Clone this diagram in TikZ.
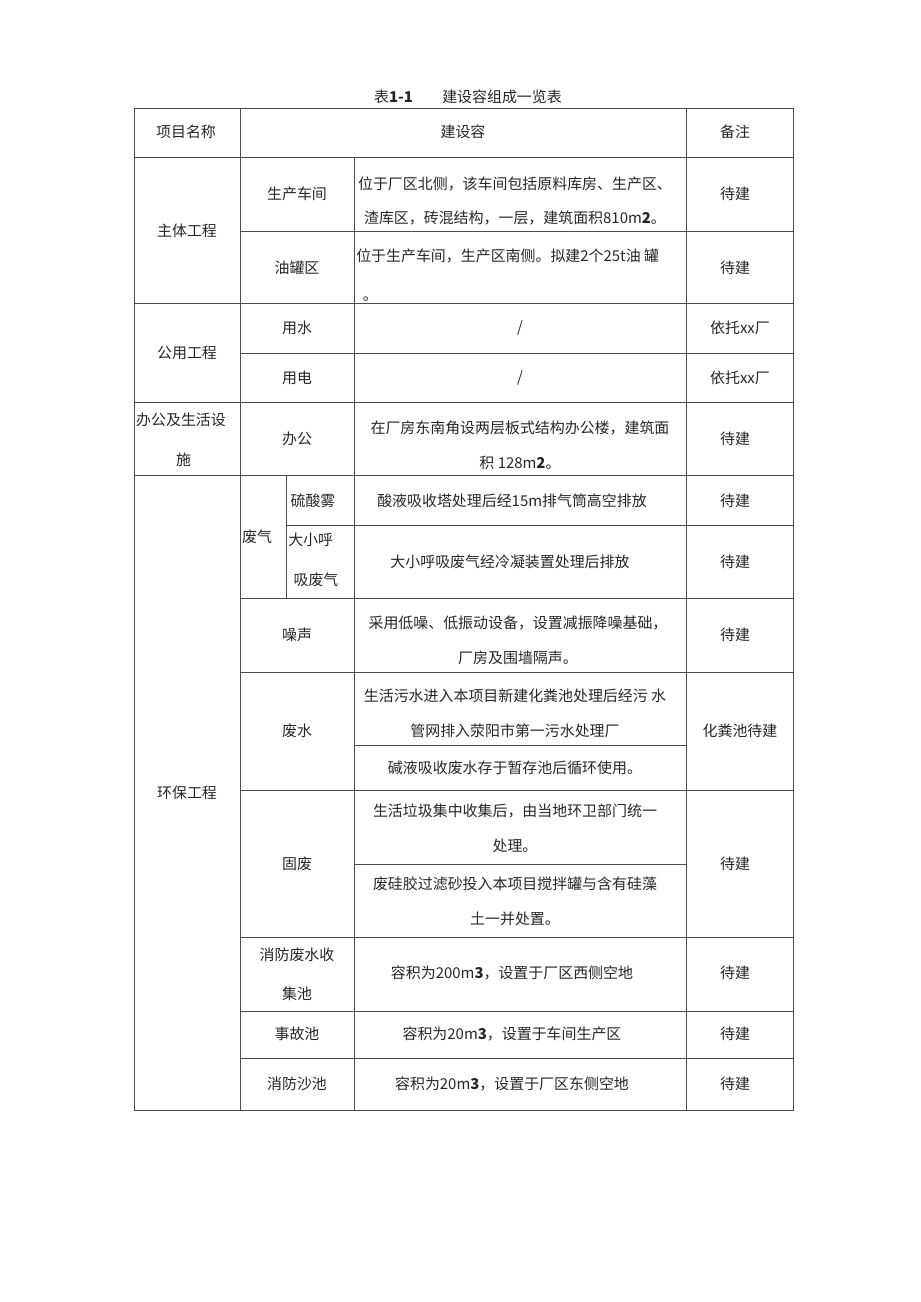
\documentclass[tikz,border=0pt]{standalone}
\usepackage{fontspec}
\setmainfont{Noto Sans CJK SC}
\begin{document}
\begin{tikzpicture}[scale=0.2646]
\tikzstyle{every node}+=[inner sep=0pt, align=center, text=black!85, font=\fontsize{11.25}{26.25}\selectfont]
\tikzstyle{gridline}=[black!70, line width=0.6pt]
\useasboundingbox (0,0) rectangle (92,-130.2);
% title
\draw (46.8,-9.7) node (title) {表\textbf{1-1}\hspace{22pt}建设容组成一览表};
% outer frame and columns
\draw [gridline] (13.4,-10.8) rectangle (79.3,-111);
\draw [gridline] (24,-10.8) -- (24,-111);
\draw [gridline] (35.4,-15.7) -- (35.4,-111);
\draw [gridline] (68.6,-10.8) -- (68.6,-111);
\draw [gridline] (28.6,-47.5) -- (28.6,-59.8);
% rows
\draw [gridline] (13.4,-15.7) -- (79.3,-15.7);
\draw [gridline] (24,-23.1) -- (79.3,-23.1);
\draw [gridline] (13.4,-30.3) -- (79.3,-30.3);
\draw [gridline] (24,-35.3) -- (79.3,-35.3);
\draw [gridline] (13.4,-40.2) -- (79.3,-40.2);
\draw [gridline] (13.4,-47.5) -- (79.3,-47.5);
\draw [gridline] (28.6,-52.5) -- (79.3,-52.5);
\draw [gridline] (24,-59.8) -- (79.3,-59.8);
\draw [gridline] (24,-67.2) -- (79.3,-67.2);
\draw [gridline] (35.4,-74.5) -- (68.6,-74.5);
\draw [gridline] (24,-79) -- (79.3,-79);
\draw [gridline] (35.4,-86.4) -- (68.6,-86.4);
\draw [gridline] (24,-93.7) -- (79.3,-93.7);
\draw [gridline] (24,-101.1) -- (79.3,-101.1);
\draw [gridline] (24,-105.8) -- (79.3,-105.8);
% header
\draw (18.6,-13.2) node (hname) {项目名称};
\draw (46.3,-13.2) node (hcontent) {建设容};
\draw (73.5,-13.2) node (hnote) {备注};
% main works
\draw (18.7,-23.1) node (ztgc) {主体工程};
\draw (29.7,-19.4) node (sccj) {生产车间};
\draw (51.5,-20.1) node (sccjtext) {位于厂区北侧，该车间包括原料库房、生产区、\\渣库区，砖混结构，一层，建筑面积810m\textbf{2}。};
\draw (73.5,-19.4) node (sccjnote) {待建};
\draw (29.7,-26.8) node (ygq) {油罐区};
\draw (35.6,-27.5) node [anchor=west, align=left] (ygqtext) {位于生产车间，生产区南侧。拟建2个25t油 罐\\[3pt]\hspace{5pt}。};
\draw (73.5,-26.8) node (ygqnote) {待建};
% utilities
\draw (18.7,-35.3) node (gygc) {公用工程};
\draw (29.7,-32.8) node (ys) {用水};
\draw (52,-32.8) node (ystext) {/};
\draw (74,-32.8) node (ysnote) {依托xx厂};
\draw (29.7,-37.8) node (yd) {用电};
\draw (52,-37.8) node (ydtext) {/};
\draw (74,-37.8) node (ydnote) {依托xx厂};
% office
\draw (18.1,-44) node (bgss) {办公及生活设\\[4pt]\hspace{4pt}施};
\draw (29.7,-43.9) node (bg) {办公};
\draw (52,-44.5) node (bgtext) {在厂房东南角设两层板式结构办公楼，建筑面\\积 128m\textbf{2}。};
\draw (73.5,-43.9) node (bgnote) {待建};
% environmental works
\draw (18.7,-79.3) node (hbgc) {环保工程};
\draw (25.7,-53.7) node (fq) {废气};
\draw (31.3,-50.1) node (lsw) {硫酸雾};
\draw (51.2,-50.1) node (lswtext) {酸液吸收塔处理后经15m排气筒高空排放};
\draw (73.5,-50.1) node (lswnote) {待建};
\draw (28.8,-56) node [anchor=west, align=left] (dxh) {大小呼\\[4pt]\hspace{4pt}吸废气};
\draw (51,-56.2) node (dxhtext) {大小呼吸废气经冷凝装置处理后排放};
\draw (73.5,-56.2) node (dxhnote) {待建};
\draw (29.7,-63.5) node (zs) {噪声};
\draw (51.8,-64) node (zstext) {采用低噪、低振动设备，设置减振降噪基础，\\厂房及围墙隔声。};
\draw (73.5,-63.5) node (zsnote) {待建};
\draw (29.7,-73.1) node (fs) {废水};
\draw (51.5,-71.35) node (fstext) {生活污水进入本项目新建化粪池处理后经污 水\\管网排入荥阳市第一污水处理厂};
\draw (51.5,-76.8) node (fstext2) {碱液吸收废水存于暂存池后循环使用。};
\draw (74,-73.1) node (fsnote) {化粪池待建};
\draw (29.7,-86.4) node (gf) {固废};
\draw (51.5,-82.8) node (gftext) {生活垃圾集中收集后，由当地环卫部门统一\\处理。};
\draw (51.5,-90.15) node (gftext2) {废硅胶过滤砂投入本项目搅拌罐与含有硅藻\\土一并处置。};
\draw (73.5,-86.4) node (gfnote) {待建};
\draw (29.7,-97.4) node (xfc) {消防废水收\\[3pt]集池};
\draw (51.2,-97.3) node (xfctext) {容积为200m\textbf{3}，设置于厂区西侧空地};
\draw (73.5,-97.3) node (xfcnote) {待建};
\draw (29.7,-103.4) node (sgc) {事故池};
\draw (51.2,-103.4) node (sgctext) {容积为20m\textbf{3}，设置于车间生产区};
\draw (73.5,-103.4) node (sgcnote) {待建};
\draw (29.7,-108.4) node (xfsc) {消防沙池};
\draw (51.2,-108.4) node (xfsctext) {容积为20m\textbf{3}，设置于厂区东侧空地};
\draw (73.5,-108.4) node (xfscnote) {待建};
\end{tikzpicture}
\end{document}
